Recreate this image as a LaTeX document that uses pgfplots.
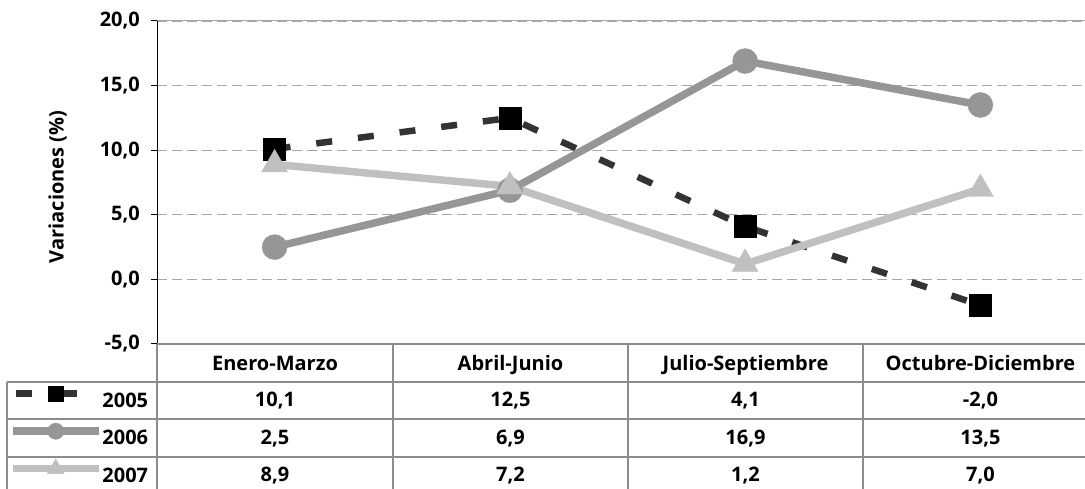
\documentclass[border=0pt]{standalone}
\usepackage{fontspec}
\setmainfont{Open Sans}
\usepackage{pgfplots}
\pgfplotsset{compat=1.18}
\definecolor{cA}{HTML}{333333}
\definecolor{cB}{HTML}{969696}
\definecolor{cC}{HTML}{C0C0C0}
\definecolor{gridc}{HTML}{A6A6A6}
\definecolor{tabc}{HTML}{8C8C8C}
\newcommand\fs{\bfseries\fontsize{20}{22}\selectfont}
\begin{document}
\begin{tikzpicture}[x=1pt,y=1pt]
\useasboundingbox (0,0) rectangle (1085,489);
\begin{axis}[
  at={(157pt,145pt)}, anchor=south west,
  scale only axis, width=941pt, height=323pt,
  xmin=-0.5, xmax=3.5, ymin=-5, ymax=20,
  xtick=\empty,
  ytick={-5,0,5,10,15,20},
  axis x line=none, axis y line=left,
  axis line style={-, black, line width=1pt},
  tick align=outside, major tick length=6pt,
  ytick style={black, line width=1pt},
  ymajorgrids,
  major grid style={gridc, line width=0.9pt, dash pattern=on 10pt off 5pt},
  yticklabel style={font=\fs, inner sep=0pt, xshift=-11pt},
  /pgf/number format/fixed, /pgf/number format/fixed zerofill,
  /pgf/number format/precision=1, /pgf/number format/use comma,
  /pgf/number format/assume math mode=true,
  ylabel={Variaciones (\%)},
  ylabel style={font=\fs, at={(axis description cs:-0.1057,0.486)}, anchor=center},
  legend style={at={(axis description cs:-0.1573,-0.1176)}, anchor=north west,
    draw=none, fill=none, inner sep=0pt, outer sep=0pt, row sep=0pt,
    column sep=0pt,
    nodes={inner sep=0pt, minimum height=37.5pt, font=\fs},
    /tikz/every even column/.append style={column sep=2pt}},
  legend image code/.code={\draw[mark repeat=2,mark phase=2, every mark/.append style={scale=0.65}] plot coordinates {(0pt,7pt) (43pt,7pt) (86pt,7pt)};},
]
\addplot[cA, line width=6.5pt, dash pattern=on 16pt off 26pt, mark=square*,
  mark size=11pt, mark options={solid, fill=black, draw=black, line width=0.4pt},
  legend image code/.code={\draw[solid] (3pt,7pt) -- (19pt,7pt) (48pt,7pt) -- (64pt,7pt);
    \draw[every mark/.append style={scale=0.7}] plot[only marks] coordinates {(43pt,7pt)};}]
  coordinates {(0,10.1) (1,12.5) (2,4.1) (3,-2.0)};
\addlegendentry{2005}
\addplot[cB, line width=7.5pt, mark=*, mark size=12.5pt,
  mark options={solid, fill=cB, draw=cB, line width=0.4pt}]
  coordinates {(0,2.5) (1,6.9) (2,16.9) (3,13.5)};
\addlegendentry{2006}
\addplot[cC, line width=7.5pt, mark=triangle*, mark size=15pt,
  mark options={solid, fill=cC, draw=cC, line width=0.4pt}]
  coordinates {(0,8.9) (1,7.2) (2,1.2) (3,7.0)};
\addlegendentry{2007}
\draw[gridc, line width=1pt] (axis cs:-0.5,20) -- (axis cs:3.5,20);
\end{axis}
% table
\begin{scope}[tabc, line width=1.2pt]
\draw (157,145) -- (1085,145);
\draw (7,107) -- (1085,107);
\draw (7,70) -- (1085,70);
\draw (7,32) -- (1085,32);
\draw (7,107) -- (7,0);
\draw (157,145) -- (157,0);
\draw (393,145) -- (393,0);
\draw (628,145) -- (628,0);
\draw (863,145) -- (863,0);
\end{scope}
\begin{scope}[every node/.style={font=\fs, anchor=base, inner sep=0pt}]
\node at (275,118) {Enero-Marzo};
\node at (510.5,118) {Abril-Junio};
\node at (745.5,118) {Julio-Septiembre};
\node at (980.5,118) {Octubre-Diciembre};
\node at (275,82.3) {10,1};
\node at (510.5,82.3) {12,5};
\node at (745.5,82.3) {4,1};
\node at (980.5,82.3) {-2,0};
\node at (275,44.8) {2,5};
\node at (510.5,44.8) {6,9};
\node at (745.5,44.8) {16,9};
\node at (980.5,44.8) {13,5};
\node at (275,7.3) {8,9};
\node at (510.5,7.3) {7,2};
\node at (745.5,7.3) {1,2};
\node at (980.5,7.3) {7,0};
\end{scope}
\end{tikzpicture}
\end{document}
